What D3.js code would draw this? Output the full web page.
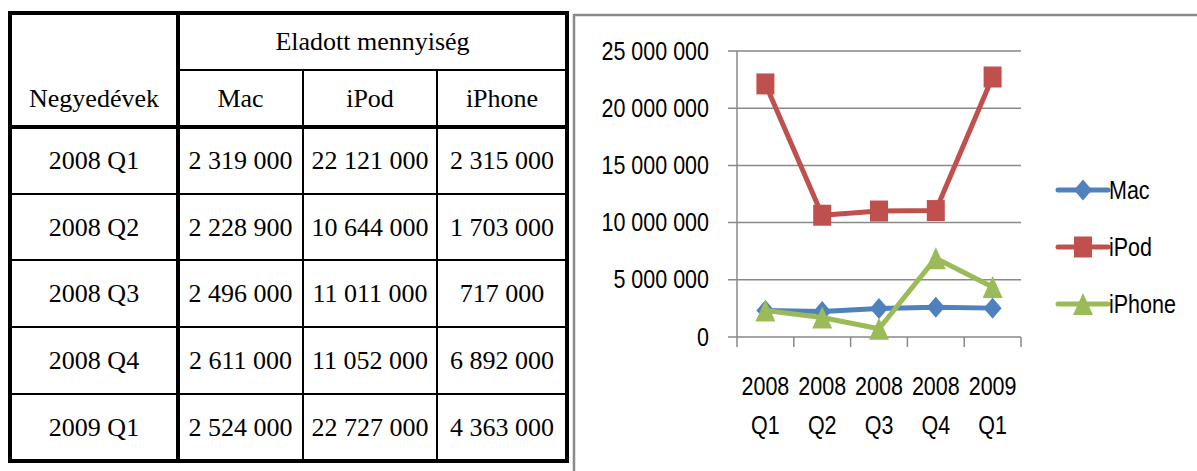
<!DOCTYPE html>
<html>
<head>
<meta charset="utf-8">
<script src="https://cdn.jsdelivr.net/npm/d3@7"></script>
<style>
  html, body { margin: 0; padding: 0; background: #fff; }
  svg { display: block; }
  .tbl text { font-family: "Liberation Serif", "Times New Roman", serif; font-size: 26px; fill: #000; }
  .chart text { font-family: "Liberation Sans", Arial, sans-serif; font-size: 25px; fill: #000; }
</style>
</head>
<body>
<div id="root"></div>
<script>
// quarters and sold units (Eladott mennyiség)
const quarters = ['2008 Q1', '2008 Q2', '2008 Q3', '2008 Q4', '2009 Q1'];
const macValues = [2319000, 2228900, 2496000, 2611000, 2524000];
const ipodValues = [22121000, 10644000, 11011000, 11052000, 22727000];
const iphoneValues = [2315000, 1703000, 717000, 6892000, 4363000];
const seriesNames = ['Mac', 'iPod', 'iPhone'];
const yTicks = [0, 5000000, 10000000, 15000000, 20000000, 25000000];

const W = 1197, H = 471;
const huLocale = d3.formatLocale({ decimal: ',', thousands: ' ', grouping: [3], currency: ['', ' Ft'] });
const fmt = huLocale.format(',d');
const narrow = 0.86; // squeeze chart text so it reads like Calibri

const series = [
  { name: seriesNames[0], values: macValues, color: '#4f81bd', shape: 'diamond' },
  { name: seriesNames[1], values: ipodValues, color: '#c0504d', shape: 'square' },
  { name: seriesNames[2], values: iphoneValues, color: '#9bbb59', shape: 'triangle' }
];

const svg = d3.select('#root').append('svg')
  .attr('width', W)
  .attr('height', H);

svg.append('rect').attr('width', W).attr('height', H).attr('fill', '#fff');

// ---------- table ----------
const tbl = svg.append('g').attr('class', 'tbl');
const colEdges = [10, 178, 303, 437, 567];
const rowEdges = [13, 70, 127, 194, 260, 327, 394, 461];

const cx = i => (colEdges[i] + colEdges[i + 1]) / 2;
const cy = i => (rowEdges[i] + rowEdges[i + 1]) / 2;

// thin lines first
const thin = [];
thin.push([colEdges[1], rowEdges[1], colEdges[4], rowEdges[1]]);
for (let r = 3; r < rowEdges.length - 1; r++) thin.push([colEdges[0], rowEdges[r], colEdges[4], rowEdges[r]]);
thin.push([colEdges[2], rowEdges[1], colEdges[2], rowEdges[7]]);
thin.push([colEdges[3], rowEdges[1], colEdges[3], rowEdges[7]]);
tbl.selectAll('line.thin').data(thin).join('line')
  .attr('class', 'thin')
  .attr('x1', d => d[0]).attr('y1', d => d[1])
  .attr('x2', d => d[2]).attr('y2', d => d[3])
  .attr('stroke', '#000').attr('stroke-width', 2);

// thick lines
const thick = [
  [colEdges[0], rowEdges[2], colEdges[4], rowEdges[2]],
  [colEdges[1], rowEdges[0], colEdges[1], rowEdges[7]]
];
tbl.selectAll('line.thick').data(thick).join('line')
  .attr('class', 'thick')
  .attr('x1', d => d[0]).attr('y1', d => d[1])
  .attr('x2', d => d[2]).attr('y2', d => d[3])
  .attr('stroke', '#000').attr('stroke-width', 4);

tbl.append('rect')
  .attr('x', colEdges[0]).attr('y', rowEdges[0])
  .attr('width', colEdges[4] - colEdges[0])
  .attr('height', rowEdges[7] - rowEdges[0])
  .attr('fill', 'none').attr('stroke', '#000').attr('stroke-width', 4);

const cells = [];
cells.push({ x: (colEdges[1] + colEdges[4]) / 2, y: cy(0), t: 'Eladott mennyiség' });
cells.push({ x: cx(0), y: cy(1), t: 'Negyedévek' });
seriesNames.forEach((n, i) => cells.push({ x: cx(i + 1), y: cy(1), t: n }));
quarters.forEach((q, r) => {
  cells.push({ x: cx(0), y: cy(r + 2), t: q });
  series.forEach((s, i) => cells.push({ x: cx(i + 1), y: cy(r + 2), t: fmt(s.values[r]) }));
});
tbl.selectAll('text').data(cells).join('text')
  .attr('x', d => d.x)
  .attr('y', d => d.y)
  .attr('text-anchor', 'middle')
  .attr('dominant-baseline', 'central')
  .text(d => d.t);

// ---------- chart ----------
const chart = svg.append('g').attr('class', 'chart');

chart.append('rect')
  .attr('x', 574).attr('y', 15)
  .attr('width', W).attr('height', H)
  .attr('fill', 'none').attr('stroke', '#8a8a8a').attr('stroke-width', 2.5);

const plot = { left: 737, right: 1021, top: 51, bottom: 337 };

const x = d3.scaleBand().domain(quarters).range([plot.left, plot.right]);
const y = d3.scaleLinear().domain([0, 25000000]).range([plot.bottom, plot.top]);

// gridlines
chart.append('g').selectAll('line').data(yTicks).join('line')
  .attr('x1', plot.left - 9).attr('x2', plot.right)
  .attr('y1', d => y(d)).attr('y2', d => y(d))
  .attr('stroke', '#898989').attr('stroke-width', 1.5);

// y axis line
chart.append('line')
  .attr('x1', plot.left).attr('x2', plot.left)
  .attr('y1', y(25000000)).attr('y2', y(0))
  .attr('stroke', '#898989').attr('stroke-width', 1.5);

// x ticks between categories
const xEdges = quarters.map(q => x(q)).concat([x.range()[1]]);
chart.append('g').selectAll('line').data(xEdges).join('line')
  .attr('x1', d => d).attr('x2', d => d)
  .attr('y1', y(0)).attr('y2', y(0) + 10)
  .attr('stroke', '#898989').attr('stroke-width', 1.5);

// y labels
chart.append('g').selectAll('text').data(yTicks).join('text')
  .attr('transform', d => `translate(${plot.left - 28},${y(d)}) scale(${narrow},1)`)
  .attr('text-anchor', 'end')
  .attr('dominant-baseline', 'central')
  .text(d => fmt(d));

// x labels, two lines
const xl = chart.append('g').selectAll('text').data(quarters).join('text')
  .attr('transform', d => `translate(${x(d) + x.bandwidth() / 2},0) scale(${narrow},1)`)
  .attr('text-anchor', 'middle');
xl.append('tspan')
  .attr('x', 0)
  .attr('y', 395)
  .text(d => d.split(' ')[0]);
xl.append('tspan')
  .attr('x', 0)
  .attr('y', 434)
  .text(d => d.split(' ')[1]);

function markerPath(shape) {
  if (shape === 'diamond') return 'M0,-10.5L9,0L0,10.5L-9,0Z';
  if (shape === 'square') return 'M-9,-10.5H9V10.5H-9Z';
  return 'M0,-11L10,11H-10Z';
}

const line = d3.line()
  .x((d, i) => x(quarters[i]) + x.bandwidth() / 2)
  .y(d => y(d));

const sg = chart.append('g').selectAll('g').data(series).join('g');
sg.append('path')
  .attr('d', d => line(d.values))
  .attr('fill', 'none')
  .attr('stroke', d => d.color)
  .attr('stroke-width', 5)
  .attr('stroke-linejoin', 'round');

sg.each(function (s) {
  d3.select(this).selectAll('path.m').data(s.values).join('path')
    .attr('class', 'm')
    .attr('transform', (d, i) => `translate(${x(quarters[i]) + x.bandwidth() / 2},${y(d)})`)
    .attr('d', markerPath(s.shape))
    .attr('fill', s.color);
});

// legend
const leg = chart.append('g').selectAll('g').data(series).join('g')
  .attr('transform', (d, i) => `translate(1058,${190 + i * 57})`);
leg.append('line')
  .attr('x1', 0).attr('x2', 50)
  .attr('stroke', d => d.color).attr('stroke-width', 5)
  .attr('stroke-linecap', 'round');
leg.append('path')
  .attr('transform', 'translate(25,0)')
  .attr('d', d => markerPath(d.shape))
  .attr('fill', d => d.color);
leg.append('text')
  .attr('transform', `translate(51,0) scale(${narrow},1)`)
  .attr('dominant-baseline', 'central')
  .text(d => d.name);
</script>
</body>
</html>
